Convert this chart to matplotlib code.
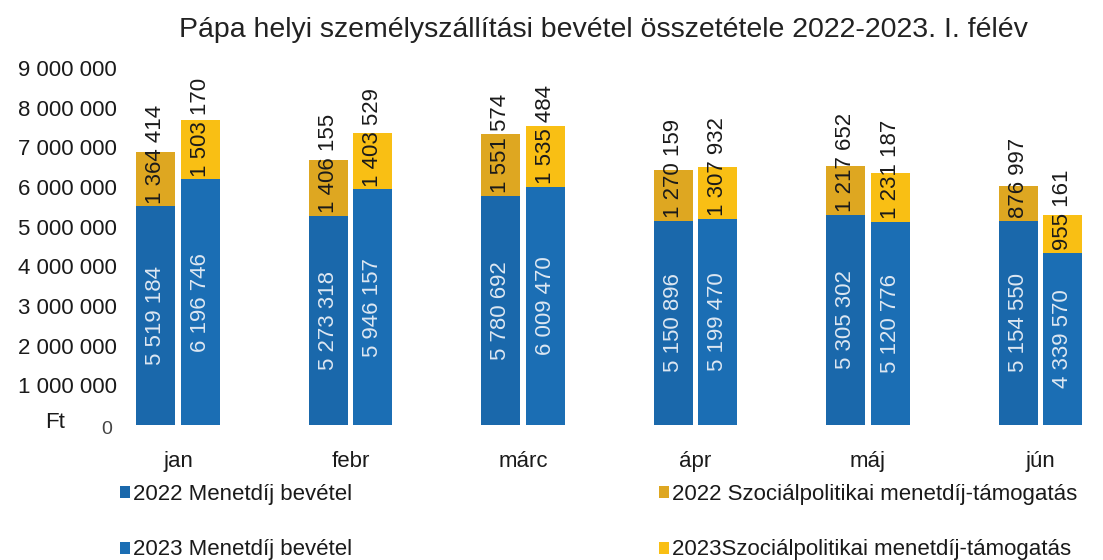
import numpy as np
import matplotlib
matplotlib.use("Agg")
import matplotlib.pyplot as plt

plt.rcParams['font.family'] = ['Liberation Sans', 'DejaVu Sans']

months = ['jan', 'febr', 'márc', 'ápr', 'máj', 'jún']
fare_2022 = [5519184, 5273318, 5780692, 5150896, 5305302, 5154550]
social_2022 = [1364414, 1406155, 1551574, 1270159, 1217652, 876997]
fare_2023 = [6196746, 5946157, 6009470, 5199470, 5120776, 4339570]
social_2023 = [1503170, 1403529, 1535484, 1307932, 1231187, 955161]

series_names = ['2022 Menetdíj bevétel', '2022 Szociálpolitikai menetdíj-támogatás',
                '2023 Menetdíj bevétel', '2023Szociálpolitikai menetdíj-támogatás']
title = 'Pápa helyi személyszállítási bevétel összetétele 2022-2023. I. félév'

c_fare22 = '#1a68ab'
c_fare23 = '#1b6eb4'
c_soc22 = '#dea721'
c_soc23 = '#f9bf14'


def fmt(v):
    return f"{v:,}".replace(",", " ")


W, H = 1103, 560
fig = plt.figure(figsize=(W / 100, H / 100), dpi=100)
ax = fig.add_axes([125 / W, 1 - 425 / H, (1095 - 125) / W, (425 - 68) / H])

x = np.arange(len(months))
w = 0.226
off = 0.128

b1 = ax.bar(x - off, fare_2022, w, color=c_fare22)
b2 = ax.bar(x - off, social_2022, w, bottom=fare_2022, color=c_soc22)
b3 = ax.bar(x + off, fare_2023, w, color=c_fare23)
b4 = ax.bar(x + off, social_2023, w, bottom=fare_2023, color=c_soc23)

fs = 16
# labels inside the blue parts (centered), labels on yellow parts start at their base
for xs, fares, socs in [(x - off, fare_2022, social_2022), (x + off, fare_2023, social_2023)]:
    for xi, f, s in zip(xs, fares, socs):
        ax.text(xi, f / 2, fmt(f), rotation=90, ha='center', va='center',
                fontsize=fs, color='#dde7f2')
        ax.text(xi, f + 60000, fmt(s), rotation=90, ha='center', va='bottom',
                fontsize=fs, color='#1a1a1a')

ax.set_xlim(-0.307, 5.316)
ax.set_ylim(0, 9000000)
ticks = np.arange(0, 9000001, 1000000)
ax.set_yticks(ticks)
ax.set_yticklabels([''] + [fmt(int(t)) for t in ticks[1:]], fontsize=fs, color='#1a1a1a')
ax.tick_params(axis='y', length=0, pad=6)
ax.set_xticks(x)
ax.set_xticklabels(months, fontsize=fs, color='#1a1a1a')
ax.tick_params(axis='x', length=0, pad=19)
for sp in ax.spines.values():
    sp.set_visible(False)

fig.text(112 / W, 1 - 430 / H, '0', ha='right', va='center', fontsize=14, color='#444444')
fig.text(45 / W, 1 - 423 / H, 'Ft', ha='left', va='center', fontsize=fs, color='#1a1a1a')

fig.text(0.547, 1 - 30 / H, title, ha='center', va='center', fontsize=20.5, color='#222222')

leg = fig.legend([b1, b3, b2, b4], [series_names[0], series_names[2], series_names[1], series_names[3]],
                 loc='upper left', bbox_to_anchor=(100 / W, 1 - 464 / H), ncol=2,
                 frameon=False, fontsize=fs, handlelength=0.45, handleheight=0.45,
                 handletextpad=0.15, columnspacing=13.8, labelspacing=1.55)
for t in leg.get_texts():
    t.set_color('#1a1a1a')

fig.savefig('out.png', dpi=100, facecolor='white')
